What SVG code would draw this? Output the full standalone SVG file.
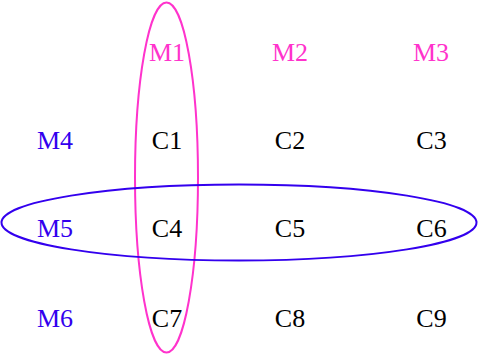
<svg xmlns="http://www.w3.org/2000/svg" width="478" height="356" viewBox="0 0 478 356">
<style>
text{font-family:'Liberation Serif','Times New Roman',serif;font-size:26px;text-anchor:middle}
.m1{fill:#ff33cc}.m2{fill:#3300ee}.c{fill:#000}
ellipse{fill:none;stroke-width:2}
</style>
<rect width="478" height="356" fill="#fff"/>
<g id="connectors">
<ellipse id="e1" cx="166.5" cy="177.5" rx="31.5" ry="175" stroke="#ff33cc"/>
<ellipse id="e2" cx="239" cy="222.5" rx="237.5" ry="38" stroke="#3300ee"/>
</g>
<g id="M1"><text class="m1" x="167" y="60.5">M1</text></g>
<g id="M2"><text class="m1" x="290" y="60.5">M2</text></g>
<g id="M3"><text class="m1" x="431" y="60.5">M3</text></g>
<g id="M4"><text class="m2" x="55" y="149">M4</text></g>
<g id="M5"><text class="m2" x="55" y="236.5">M5</text></g>
<g id="M6"><text class="m2" x="55" y="326.5">M6</text></g>
<g id="C1"><text class="c" x="167" y="149">C1</text></g>
<g id="C2"><text class="c" x="290" y="149">C2</text></g>
<g id="C3"><text class="c" x="431.5" y="149">C3</text></g>
<g id="C4"><text class="c" x="167" y="236.5">C4</text></g>
<g id="C5"><text class="c" x="290" y="236.5">C5</text></g>
<g id="C6"><text class="c" x="431.5" y="236.5">C6</text></g>
<g id="C7"><text class="c" x="167" y="326.5">C7</text></g>
<g id="C8"><text class="c" x="290" y="326.5">C8</text></g>
<g id="C9"><text class="c" x="431.5" y="326.5">C9</text></g>
</svg>
